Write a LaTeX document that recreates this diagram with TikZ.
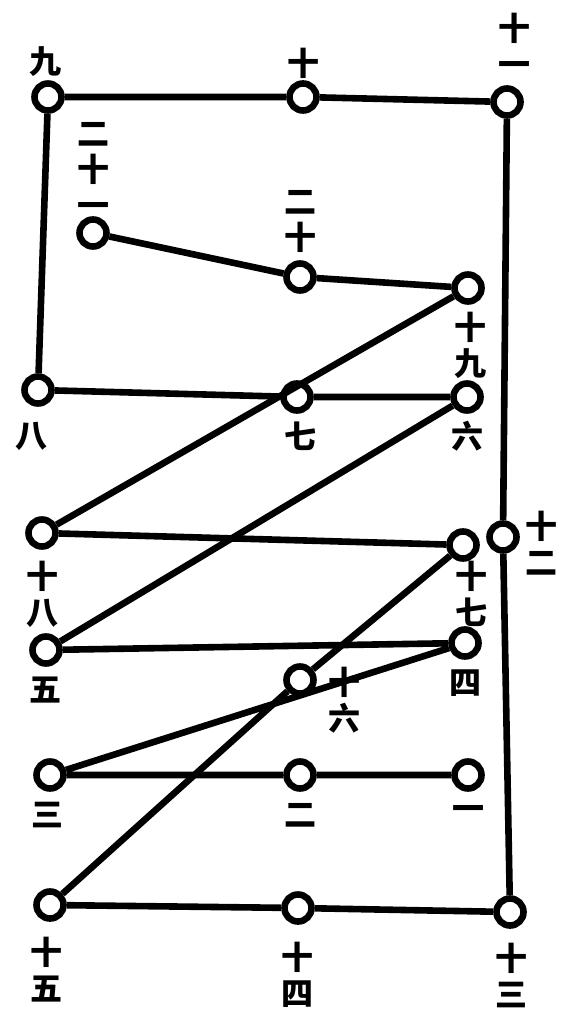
\documentclass[tikz,border=0pt]{standalone}
\usepackage{fontspec}
\newfontfamily\cjk{Noto Sans CJK SC}
\usepackage{tikz}
\usetikzlibrary{positioning}

\begin{document}
\begin{tikzpicture}[
    x=0.5pt, y=-0.5pt,
    stone/.style={circle, draw=black, fill=white, line width=3.3pt, minimum size=13.5pt, inner sep=0pt},
    edge/.style={line width=3.3pt, line join=round},
    num/.style={font=\cjk\bfseries\fontsize{16}{18}\selectfont, align=center, inner sep=0pt}
]
\useasboundingbox (0,0) rectangle (565,1020);

% Define the stones in playing order
\node[stone] (n1) at (468,775) {};
\node[stone] (n2) at (300,775) {};
\node[stone] (n3) at (50,775) {};
\node[stone] (n4) at (465,643) {};
\node[stone] (n5) at (46,650) {};
\node[stone] (n6) at (467,397) {};
\node[stone] (n7) at (297,397) {};
\node[stone] (n8) at (38,390) {};
\node[stone] (n9) at (48,97) {};
\node[stone] (n10) at (303,97) {};
\node[stone] (n11) at (507,102) {};
\node[stone] (n12) at (503,537) {};
\node[stone] (n13) at (510,912) {};
\node[stone] (n14) at (298,908) {};
\node[stone] (n15) at (50,905) {};
\node[stone] (n16) at (300,680) {};
\node[stone] (n17) at (463,545) {};
\node[stone] (n18) at (42,533) {};
\node[stone] (n19) at (468,288) {};
\node[stone] (n20) at (300,277) {};
\node[stone] (n21) at (93,233) {};

% Draw the path from one stone to the next
\draw[edge] (n1) -- (n2) -- (n3) -- (n4) -- (n5) -- (n6) -- (n7) -- (n8) -- (n9) -- (n10) -- (n11);
\draw[edge] (n11) -- (n12) -- (n13) -- (n14) -- (n15) -- (n16) -- (n17) -- (n18) -- (n19) -- (n20) -- (n21);

% Add the numbers
\node[num] (l1) at (468,813) {一};
\node[num] (l2) at (300,815) {二};
\node[num] (l3) at (48,815) {三};
\node[num] (l4) at (465,683) {四};
\node[num] (l5) at (45,690) {五};
\node[num] (l6) at (467,436) {六};
\node[num] (l7) at (300,436) {七};
\node[num] (l8) at (32,436) {八};
\node[num] (l9) at (45,62) {九};
\node[num] (l10) at (303,63) {十};
\node[num] (l11) at (514,45) {十\\一};
\node[num] (l12) at (541,543) {十\\二};
\node[num] (l13) at (511,975) {十\\三};
\node[num] (l14) at (297,975) {十\\四};
\node[num] (l15) at (46,970) {十\\五};
\node[num] (l16) at (344,700) {十\\六};
\node[num] (l17) at (471,594) {十\\七};
\node[num] (l18) at (42,594) {十\\八};
\node[num] (l19) at (470,345) {十\\九};
\node[num] (l20) at (300,222) {二\\十};
\node[num] (l21) at (93,170) {二\\十\\一};

\end{tikzpicture}
\end{document}
